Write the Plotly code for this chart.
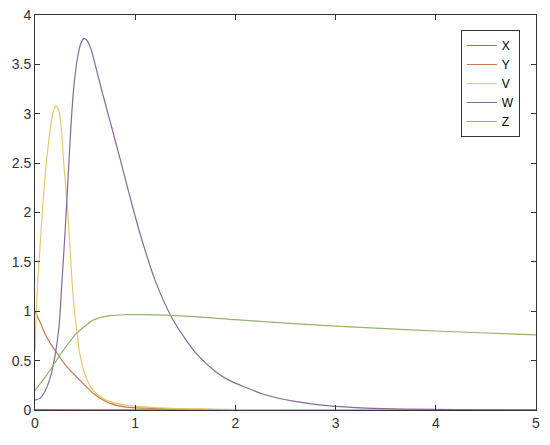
import plotly.graph_objects as go

# series X (flat at ~0)
x_x = [0, 0.5, 1, 2, 3, 4, 5]
val_x = [0.004, 0.002, 0.001, 0.0, 0.0, 0.0, 0.0]

# series Y
x_y = [0, 0.05, 0.1, 0.15, 0.245, 0.3, 0.41, 0.5, 0.58, 0.745, 0.91, 1.1, 1.5, 2, 3, 5]
val_y = [1.0, 0.89, 0.77, 0.68, 0.54, 0.46, 0.34, 0.25, 0.17, 0.07, 0.03, 0.018, 0.008, 0.004, 0.001, 0.0]

# series V
x_v = [0, 0.02, 0.04, 0.073, 0.113, 0.153, 0.185, 0.213, 0.24, 0.263, 0.287, 0.327, 0.357,
       0.38, 0.4, 0.42, 0.445, 0.495, 0.58, 0.71, 0.91, 1.2, 1.6, 2.2, 3, 5]
val_v = [0.6, 1.16, 1.5, 2.0, 2.5, 2.85, 3.03, 3.08, 3.02, 2.85, 2.5, 2.0, 1.5,
         1.16, 0.95, 0.78, 0.58, 0.37, 0.2, 0.1, 0.05, 0.025, 0.012, 0.005, 0.002, 0.0]

# series W
x_w = [0, 0.05, 0.1, 0.15, 0.2, 0.24, 0.27, 0.3, 0.33, 0.36, 0.39, 0.43, 0.46, 0.49, 0.52, 0.56,
       0.6, 0.66, 0.75, 0.85, 0.95, 1.05, 1.2, 1.36, 1.5, 1.61, 1.8, 1.94, 2.1, 2.28, 2.61, 2.94,
       3.3, 3.7, 4.2, 5]
val_w = [0.1, 0.12, 0.19, 0.32, 0.55, 0.85, 1.32, 1.8, 2.35, 2.9, 3.3, 3.6, 3.72, 3.76, 3.74, 3.65,
         3.5, 3.26, 2.92, 2.54, 2.15, 1.78, 1.31, 0.945, 0.72, 0.57, 0.39, 0.3, 0.23, 0.16, 0.084, 0.042,
         0.02, 0.009, 0.004, 0.001]

# series Z
x_z = [0, 0.1, 0.2, 0.245, 0.3, 0.41, 0.5, 0.58, 0.745, 0.91, 1.1, 1.5, 2, 2.5, 3, 3.5, 4, 4.5, 5]
val_z = [0.2, 0.33, 0.48, 0.55, 0.63, 0.77, 0.85, 0.91, 0.955, 0.965, 0.965, 0.95, 0.915,
         0.88, 0.85, 0.825, 0.8, 0.78, 0.76]

series = [
    ("X", x_x, val_x, "#3f8db5"),
    ("Y", x_y, val_y, "#c47a55"),
    ("V", x_v, val_v, "#e6c96a"),
    ("W", x_w, val_w, "#856a98"),
    ("Z", x_z, val_z, "#93b46c"),
]

fig = go.Figure()
for name, xs, ys, color in series:
    fig.add_trace(go.Scatter(x=xs, y=ys, name=name, mode="lines",
                             line=dict(color=color, width=1.2, shape="spline", smoothing=0.8)))

axis_style = dict(showline=True, mirror="allticks", linecolor="#333333", linewidth=1,
                  ticks="inside", ticklen=5, tickcolor="#333333", showgrid=False,
                  zeroline=False, automargin=False, ticklabeloverflow="allow",
                  tickfont=dict(family="Liberation Sans", size=14, color="#333333"))

fig.update_xaxes(range=[0, 5], dtick=1, **axis_style)
fig.update_yaxes(range=[0, 4], dtick=0.5, **axis_style)

# page body adds an 8px margin, so the figure is shrunk by that much
fig.update_layout(
    width=542, height=437,
    margin=dict(l=27, r=14, t=7, b=35),
    plot_bgcolor="white", paper_bgcolor="white",
    legend=dict(x=0.85, y=0.962, xanchor="left", yanchor="top",
                bordercolor="#333333", borderwidth=1, bgcolor="white",
                entrywidth=36, entrywidthmode="pixels",
                font=dict(family="Liberation Sans", size=12, color="#000000")),
)

fig.write_html("out.html")
